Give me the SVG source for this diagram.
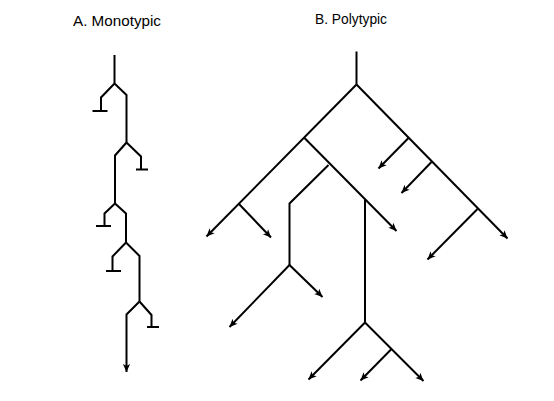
<svg xmlns="http://www.w3.org/2000/svg" width="554" height="401" viewBox="0 0 554 401">
<style>
.t{font-family:"Liberation Sans",Arial,sans-serif;font-size:14px;fill:#000}
.l{fill:none;stroke:#000;stroke-width:2;stroke-linejoin:miter;stroke-linecap:butt}
.a{fill:none;stroke:#000;stroke-width:2;marker-end:url(#ah)}
</style>
<defs>
<marker id="ah" viewBox="0 0 10 10" refX="10" refY="5" markerWidth="10" markerHeight="8" markerUnits="userSpaceOnUse" orient="auto">
<path d="M0,0.5 L10,5 L0,9.5 L2.5,5 z" fill="#000"/>
</marker>
</defs>
<rect width="554" height="401" fill="#fff"/>
<g id="labelA"><text class="t" x="73" y="26" textLength="88" lengthAdjust="spacingAndGlyphs">A. Monotypic</text></g>
<g id="labelB"><text class="t" x="315" y="24" textLength="72" lengthAdjust="spacingAndGlyphs">B. Polytypic</text></g>
<g id="connectors">
<g id="monotypic">
<path class="l" d="M114.5,55 V83.5 M114.5,83.5 L101,97.5 V111 M92.5,111 H107.5 M114.5,83.5 L126.5,95 V142.5"/>
<path class="l" d="M126.5,142.5 L141,156.5 V169.5 M136,169.5 H148 M126.5,142.5 L115,155.5 V203.5"/>
<path class="l" d="M115,203.5 L104.5,213.5 V226 M96,226 H111 M115,203.5 L126,213.5 V242.5"/>
<path class="l" d="M126,242.5 L112.5,256.5 V271 M106,271 H121 M126,242.5 L139.5,256 V301.5"/>
<path class="l" d="M139.5,301.5 L151.5,315 V327 M147,327 H159"/>
<path class="a" d="M139.5,301.5 L126.5,314.5 V372"/>
</g>
<g id="polytypic">
<path class="l" d="M356.5,51.5 V84.5"/>
<path class="a" d="M356.5,84.5 L507.5,238.5"/>
<path class="a" d="M408.5,138 L378.5,168.5"/>
<path class="a" d="M431.5,162 L401.5,193"/>
<path class="a" d="M477.5,209 L427.5,259.5"/>
<path class="a" d="M356.5,84.5 L206.5,236.5"/>
<path class="a" d="M238.5,203.5 L271,237.5"/>
<path class="a" d="M304.5,138 L396.5,231"/>
<path class="l" d="M328.5,165 L289.5,203.5 V265"/>
<path class="a" d="M289.5,265 L229.5,327"/>
<path class="a" d="M289.5,265 L322.5,297"/>
<path class="l" d="M365,200 V322.5"/>
<path class="a" d="M365,322.5 L308.5,379.5"/>
<path class="a" d="M365,322.5 L423.5,381"/>
<path class="a" d="M391.5,349 L360.5,380.5"/>
</g>
</g>
</svg>
